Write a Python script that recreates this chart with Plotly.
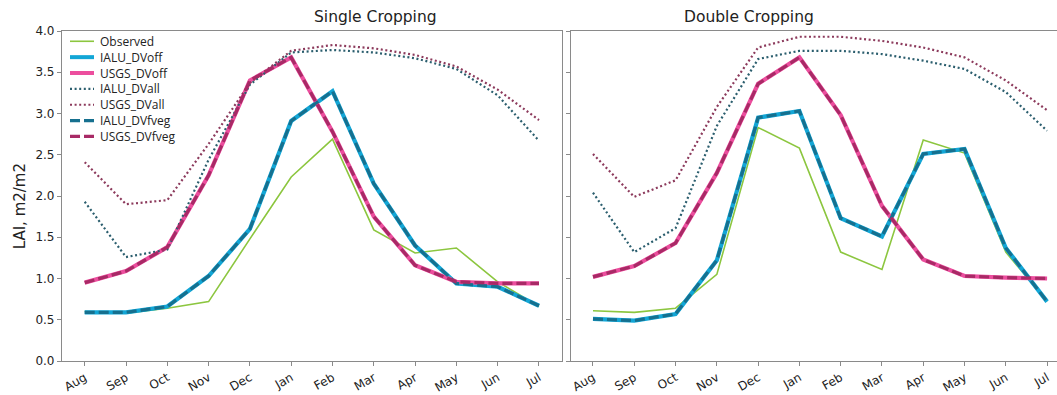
import plotly.graph_objects as go

months = ["Aug", "Sep", "Oct", "Nov", "Dec", "Jan", "Feb", "Mar", "Apr", "May", "Jun", "Jul"]
y_ticks = [0.0, 0.5, 1.0, 1.5, 2.0, 2.5, 3.0, 3.5, 4.0]

# Single Cropping
single_observed = [0.60, 0.58, 0.64, 0.72, 1.48, 2.23, 2.69, 1.59, 1.31, 1.37, 0.96, 0.66]
single_ialu_dvoff = [0.59, 0.59, 0.66, 1.03, 1.60, 2.91, 3.27, 2.15, 1.40, 0.94, 0.90, 0.67]
single_usgs_dvoff = [0.95, 1.09, 1.38, 2.25, 3.40, 3.68, 2.78, 1.75, 1.16, 0.96, 0.94, 0.94]
single_ialu_dvall = [1.93, 1.26, 1.35, 2.44, 3.35, 3.74, 3.77, 3.74, 3.67, 3.54, 3.22, 2.67]
single_usgs_dvall = [2.41, 1.90, 1.95, 2.63, 3.37, 3.76, 3.83, 3.79, 3.71, 3.57, 3.29, 2.92]
single_ialu_dvfveg = [0.59, 0.59, 0.66, 1.03, 1.60, 2.91, 3.27, 2.15, 1.40, 0.94, 0.90, 0.67]
single_usgs_dvfveg = [0.95, 1.09, 1.38, 2.25, 3.40, 3.68, 2.78, 1.75, 1.16, 0.96, 0.94, 0.94]

# Double Cropping
double_observed = [0.61, 0.59, 0.64, 1.05, 2.83, 2.58, 1.32, 1.11, 2.68, 2.52, 1.32, 0.72]
double_ialu_dvoff = [0.51, 0.49, 0.57, 1.22, 2.95, 3.03, 1.73, 1.51, 2.51, 2.57, 1.37, 0.72]
double_usgs_dvoff = [1.02, 1.15, 1.43, 2.28, 3.36, 3.68, 2.98, 1.88, 1.23, 1.03, 1.01, 1.00]
double_ialu_dvall = [2.04, 1.32, 1.61, 2.85, 3.66, 3.76, 3.76, 3.72, 3.64, 3.54, 3.26, 2.79]
double_usgs_dvall = [2.51, 1.99, 2.19, 3.08, 3.80, 3.93, 3.93, 3.88, 3.80, 3.68, 3.40, 3.04]
double_ialu_dvfveg = [0.51, 0.49, 0.57, 1.22, 2.95, 3.03, 1.73, 1.51, 2.51, 2.57, 1.37, 0.72]
double_usgs_dvfveg = [1.02, 1.15, 1.43, 2.28, 3.36, 3.68, 2.98, 1.88, 1.23, 1.03, 1.01, 1.00]

names = ["Observed", "IALU_DVoff", "USGS_DVoff", "IALU_DVall", "USGS_DVall", "IALU_DVfveg", "USGS_DVfveg"]
styles = [
    dict(color="#8CC63F", width=1.6, dash="solid"),
    dict(color="#12A6D6", width=4.2, dash="solid"),
    dict(color="#EC4E9E", width=4.2, dash="solid"),
    dict(color="#2B5E6E", width=2.2, dash="2px,2.6px"),
    dict(color="#8C3A5C", width=2.2, dash="2px,2.6px"),
    dict(color="#16708F", width=3.2, dash="10px,4px"),
    dict(color="#A82A66", width=3.2, dash="10px,4px"),
]

single = [single_observed, single_ialu_dvoff, single_usgs_dvoff, single_ialu_dvall,
          single_usgs_dvall, single_ialu_dvfveg, single_usgs_dvfveg]
double = [double_observed, double_ialu_dvoff, double_usgs_dvoff, double_ialu_dvall,
          double_usgs_dvall, double_ialu_dvfveg, double_usgs_dvfveg]

fig = go.Figure()
xs = list(range(len(months)))
for name, st, ys in zip(names, styles, single):
    fig.add_trace(go.Scatter(x=xs, y=ys, mode="lines", name=name, line=st,
                             xaxis="x", yaxis="y", showlegend=False))
for name, st, ys in zip(names, styles, double):
    fig.add_trace(go.Scatter(x=xs, y=ys, mode="lines", name=name, line=st,
                             xaxis="x2", yaxis="y2", showlegend=False))

W, H = 1057, 395
ml, mr, mt, mb = 62, 0, 31, 27
pw = W - ml - mr
ph = H - mt - mb
d1 = (561.7 - ml) / pw
d2 = (570.7 - ml) / pw


def px_x(px):
    return (px - ml) / pw


def px_y(py):
    return (H - mb - py) / ph


axis_common = dict(showline=True, linecolor="#8a8a8a", linewidth=1.2, ticks="outside",
                   ticklen=4, tickcolor="#8a8a8a", showgrid=False, zeroline=False,
                   tickfont=dict(family="DejaVu Sans", size=12, color="#222"))

# Legend (drawn inside the left panel)
shapes = []
annotations = []
leg_top = 41.5
leg_step = 16.2
for i, (name, st) in enumerate(zip(names, styles)):
    yy = px_y(leg_top + i * leg_step)
    lw = st["width"]
    dash = st["dash"]
    if i in (1, 2):
        lw = 4.0
    shapes.append(dict(type="line", xref="paper", yref="paper", x0=px_x(70), x1=px_x(94),
                       y0=yy, y1=yy, line=dict(color=st["color"], width=lw, dash=dash)))
    annotations.append(dict(text=name, xref="paper", yref="paper", x=px_x(97.5), y=yy,
                            xanchor="left", yanchor="middle", showarrow=False,
                            font=dict(family="Open Sans", size=12, color="#222")))

annotations += [
    dict(text="Single Cropping", x=d1 / 2, xref="paper", y=1, yref="paper", yanchor="bottom",
         yshift=3, showarrow=False, font=dict(family="DejaVu Sans", size=15.5, color="#222")),
    dict(text="Double Cropping", x=px_x(816), xref="paper", y=1, yref="paper",
         yanchor="bottom", yshift=3, showarrow=False,
         font=dict(family="DejaVu Sans", size=15.5, color="#222")),
    dict(text="LAI, m2/m2", x=px_x(20), xref="paper", y=px_y(210), yref="paper",
         textangle=-90, showarrow=False, xanchor="center", yanchor="middle",
         font=dict(family="DejaVu Sans", size=15, color="#222")),
]

fig.update_layout(
    width=W, height=H,
    margin=dict(l=ml, r=mr, t=mt, b=mb),
    paper_bgcolor="white", plot_bgcolor="white",
    showlegend=False,
    xaxis=dict(domain=[0, d1], range=[-0.55, 11.55], tickmode="array", tickvals=xs,
               ticktext=months, tickangle=-30, mirror=True, anchor="y", **axis_common),
    xaxis2=dict(domain=[d2, 1], range=[-0.54, 11.24], tickmode="array", tickvals=xs,
                ticktext=months, tickangle=-30, mirror=True, anchor="y2", **axis_common),
    yaxis=dict(domain=[0, 1], range=[0, 4], tickmode="array", tickvals=y_ticks,
               ticktext=[f"{v:.1f}" for v in y_ticks], mirror=True, anchor="x", **axis_common),
    yaxis2=dict(domain=[0, 1], range=[0, 4], tickmode="array", tickvals=y_ticks,
                showticklabels=False, mirror=False, anchor="x2", **axis_common),
    shapes=shapes,
    annotations=annotations,
)

fig.write_html("out.html")
